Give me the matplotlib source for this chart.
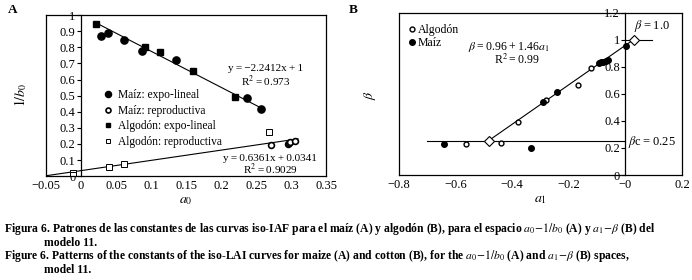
import numpy as np
import matplotlib
matplotlib.use("Agg")
import matplotlib.pyplot as plt
from matplotlib.ticker import FuncFormatter

plt.rcParams['font.family'] = ['Liberation Serif', 'DejaVu Serif']
plt.rcParams['mathtext.fontset'] = 'stix'
plt.rcParams['axes.unicode_minus'] = True

# panel A: a0 vs 1/b0
maiz_exp_x = [0.029, 0.039, 0.061, 0.087, 0.135, 0.237, 0.257]
maiz_exp_y = [0.873, 0.889, 0.844, 0.775, 0.723, 0.487, 0.414]
maiz_rep_x = [0.272, 0.295, 0.297, 0.299, 0.306]
maiz_rep_y = [0.192, 0.202, 0.206, 0.210, 0.219]
alg_exp_x = [0.022, 0.092, 0.113, 0.160, 0.220]
alg_exp_y = [0.944, 0.804, 0.773, 0.650, 0.494]
alg_rep_x = [-0.012, -0.012, 0.040, 0.062, 0.268]
alg_rep_y = [0.022, 0.005, 0.058, 0.075, 0.271]

# panel B: a1 vs beta
b_alg_x = [-0.565, -0.438, -0.379, -0.280, -0.167, -0.120]
b_alg_y = [0.230, 0.235, 0.393, 0.558, 0.667, 0.795]
b_maiz_x = [-0.640, -0.332, -0.291, -0.243, -0.095, -0.085, -0.078, -0.070, -0.062, 0.002]
b_maiz_y = [0.227, 0.198, 0.543, 0.613, 0.826, 0.835, 0.840, 0.846, 0.850, 0.953]
beta_c = 0.25
beta_max = 1.0


def fmt(v, pos):
    s = '%g' % round(v, 3)
    return s.replace('-', '\u2212')


fig = plt.figure(figsize=(6.92, 2.80), dpi=100)

# ---------- A ----------
ax = fig.add_axes([0.0665, 0.371, 0.4046, 0.575])
ax.set_xlim(-0.05, 0.35)
ax.set_ylim(0, 1)
ax.spines['left'].set_position(('data', 0))
ax.plot([0, 0], [0, 1], transform=ax.transAxes, color='k', lw=0.9, clip_on=False)
for s in ax.spines.values():
    s.set_linewidth(0.9)
ax.set_xticks(np.arange(-0.05, 0.36, 0.05))
ax.set_yticks(np.arange(0, 1.01, 0.1))
ax.xaxis.set_major_formatter(FuncFormatter(fmt))
ax.yaxis.set_major_formatter(FuncFormatter(fmt))
ax.tick_params(axis='y', direction='out', length=3, width=0.8, labelsize=9, pad=1)
ax.tick_params(axis='x', direction='in', length=0, labelsize=9, pad=3)

xx = np.array([0.022, 0.26])
ax.plot(xx, -2.2412 * xx + 1, color='k', lw=0.8)
xx = np.array([-0.05, 0.31])
ax.plot(xx, 0.6361 * xx + 0.0341, color='k', lw=0.8)

h1, = ax.plot(maiz_exp_x, maiz_exp_y, 'o', color='k', ms=5.2, ls='none')
h2, = ax.plot(maiz_rep_x, maiz_rep_y, 'o', mfc='white', mec='k', mew=1.2, ms=4.2, ls='none')
h3, = ax.plot(alg_exp_x, alg_exp_y, 's', color='k', ms=4.2, ls='none')
h4, = ax.plot(alg_rep_x, alg_rep_y, 's', mfc='white', mec='k', mew=0.7, ms=3.8, ls='none')
ax.legend([h1, h2, h3, h4],
          ['Maíz: expo-lineal', 'Maíz: reproductiva', 'Algodón: expo-lineal', 'Algodón: reproductiva'],
          loc='upper left', bbox_to_anchor=(0.19, 0.575), frameon=False, fontsize=8.3,
          handlelength=0.6, handletextpad=0.5, labelspacing=0.3, borderpad=0, markerscale=0.85)

ax.text(0.264, 0.67, 'y\u2009=\u2009\u22122.2412x\u2009+\u20091', ha='center', va='center', fontsize=8)
ax.text(0.264, 0.59, 'R$^2$\u2009=\u20090.973', ha='center', va='center', fontsize=8)
ax.text(0.27, 0.108, 'y\u2009=\u20090.6361x\u2009+\u20090.0341', ha='center', va='center', fontsize=8)
ax.text(0.27, 0.040, 'R$^2$\u2009=\u20090.9029', ha='center', va='center', fontsize=8)
ax.set_xlabel('$a_0$', fontsize=10, labelpad=1)
fig.text(0.03, 0.66, '$1/b_0$', rotation=90, ha='center', va='center', fontsize=10)
fig.text(0.012, 0.965, 'A', fontweight='bold', fontsize=9.5, ha='left', va='center')

# ---------- B ----------
bx = fig.add_axes([0.5766, 0.375, 0.409, 0.579])
bx.set_xlim(-0.8, 0.2)
bx.set_ylim(0, 1.2)
bx.spines['left'].set_position(('data', 0))
bx.plot([0, 0], [0, 1], transform=bx.transAxes, color='k', lw=0.9, clip_on=False)
for s in bx.spines.values():
    s.set_linewidth(0.9)
bx.set_xticks(np.arange(-0.8, 0.21, 0.2))
bx.set_yticks(np.arange(0, 1.21, 0.2))
bx.xaxis.set_major_formatter(FuncFormatter(fmt))
bx.yaxis.set_major_formatter(FuncFormatter(fmt))
bx.tick_params(axis='y', direction='out', length=3, width=0.8, labelsize=9, pad=1)
bx.tick_params(axis='x', direction='in', length=0, labelsize=9, pad=3)

bx.plot([-0.70, 0], [beta_c, beta_c], color='k', lw=0.8)
bx.plot([0, 0.094], [beta_max, beta_max], color='k', lw=0.8)
xx = np.array([-0.483, 0.027])
bx.plot(xx, 0.96 + 1.46 * xx, color='k', lw=0.8)
g1, = bx.plot(b_alg_x, b_alg_y, 'o', mfc='white', mec='k', mew=1.0, ms=3.5, ls='none')
g2, = bx.plot(b_maiz_x, b_maiz_y, 'o', color='k', ms=4, ls='none')
bx.plot([-0.483, 0.032], [0.25, 1.0], 'D', mfc='white', mec='k', mew=0.8, ms=5.5, ls='none')
bx.legend([g1, g2], ['Algodón', 'Maíz'], loc='upper left', bbox_to_anchor=(0.015, 0.97),
          frameon=False, fontsize=8.5, handlelength=0.4, handletextpad=0.3,
          labelspacing=0.15, borderpad=0)

bx.text(-0.414, 0.945, r'$\beta$' + '\u2009=\u20090.96\u2009+\u20091.46' + r'$a_1$', ha='center', va='center', fontsize=8.5)
bx.text(-0.383, 0.850, 'R$^2$\u2009=\u20090.99', ha='center', va='center', fontsize=8.5)
bx.text(0.03, 1.10, r'$\beta$' + '\u2009=\u20091.0', ha='left', va='center', fontsize=9)
bx.text(0.008, 0.247, r'$\beta$' + 'c\u2009=\u20090.25', ha='left', va='center', fontsize=9)
bx.set_xlabel('$a_1$', fontsize=10, labelpad=1)
fig.text(0.535, 0.66, r'$\beta$', rotation=90, ha='center', va='center', fontsize=10)
fig.text(0.504, 0.965, 'B', fontweight='bold', fontsize=9.5, ha='left', va='center')

# ---------- caption ----------
cs = 8.4
fig.text(0.006, 0.181,
         'Figura 6. Patrones de las constantes de las curvas iso-IAF para el maíz (A) y algodón (B), para el espacio '
         r'$a_0\!-\!1/b_0$ (A) y $a_1\!-\!\beta$ (B) del',
         fontsize=cs, fontweight='bold', va='center', ha='left')
fig.text(0.063, 0.133, 'modelo 11.', fontsize=cs, fontweight='bold', va='center', ha='left')
fig.text(0.006, 0.085,
         'Figure 6. Patterns of the constants of the iso-LAI curves for maize (A) and cotton (B), for the '
         r'$a_0\!-\!1/b_0$ (A) and $a_1\!-\!\beta$ (B) spaces,',
         fontsize=cs, fontweight='bold', va='center', ha='left')
fig.text(0.063, 0.036, 'model 11.', fontsize=cs, fontweight='bold', va='center', ha='left')

fig.savefig('out.png', dpi=100)
